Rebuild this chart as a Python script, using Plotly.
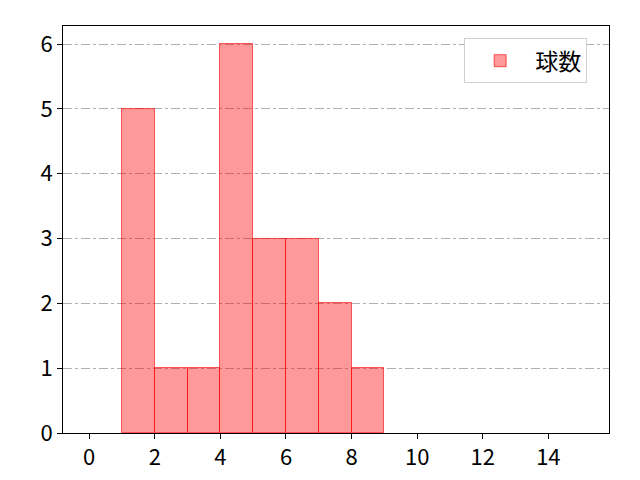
import plotly.graph_objects as go

# histogram bins (left edges, width 1) and counts
bin_left = [1, 2, 3, 4, 5, 6, 7, 8]
counts = [5, 1, 1, 6, 3, 3, 2, 1]
series_name = "球数"

x_ticks = [0, 2, 4, 6, 8, 10, 12, 14]
y_ticks = [0, 1, 2, 3, 4, 5, 6]

fig = go.Figure()
fig.add_trace(go.Bar(
    name=series_name,
    x=bin_left,
    y=counts,
    width=1,
    offset=0,
    marker=dict(
        color='rgba(255,0,0,0.4)',
        line=dict(color='rgba(255,0,0,0.6)', width=1)
    ),
    showlegend=True
))

fig.update_layout(
    width=640,
    height=480,
    margin=dict(l=55, r=39, t=18, b=55),
    font=dict(family="Noto Sans CJK JP", size=22, color='black'),
    plot_bgcolor='white',
    paper_bgcolor='white',
    bargap=0,
    xaxis=dict(
        range=[-0.8, 15.85],
        tickvals=x_ticks,
        ticks='outside', ticklen=5, tickcolor='black',
        showline=True, linecolor='black', linewidth=1, mirror=True,
        showgrid=False, zeroline=False
    ),
    yaxis=dict(
        range=[0, 6.28],
        tickvals=y_ticks,
        ticks='outside', ticklen=5, tickcolor='black',
        showline=True, linecolor='black', linewidth=1, mirror=True,
        showgrid=True, gridcolor='#b0b0b0', griddash='dashdot', gridwidth=1,
        zeroline=False
    ),
    legend=dict(
        x=0.96, y=0.97, xanchor='right', yanchor='top',
        bgcolor='white', bordercolor='#d0d0d0', borderwidth=1,
        font=dict(size=23), itemwidth=60
    )
)

fig.write_html("out.html")
